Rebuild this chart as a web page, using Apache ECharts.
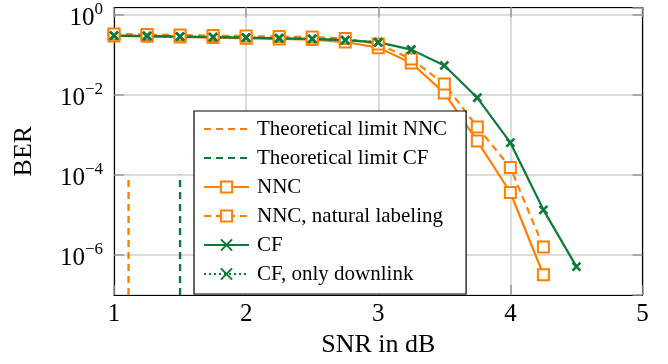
<!DOCTYPE html>
<html><head><meta charset="utf-8">
<script src="https://cdn.jsdelivr.net/npm/echarts@6/dist/echarts.min.js"></script>
<style>html,body{margin:0;padding:0;background:#fff}#c{width:668px;height:364px}</style>
</head><body><div id="c"></div><script>
// SNR points (dB)
const snr = [1, 1.25, 1.5, 1.75, 2, 2.25, 2.5, 2.75, 3, 3.25, 3.5, 3.75, 4, 4.25, 4.5];
// BER values
const berNNC = [0.29, 0.284, 0.274, 0.263, 0.253, 0.244, 0.235, 0.204, 0.148, 0.061, 0.011, 6.9e-4, 3.6e-5, 3.2e-7];
const berNNCNatural = [0.324, 0.313, 0.304, 0.295, 0.288, 0.279, 0.271, 0.249, 0.182, 0.077, 0.0184, 1.55e-3, 1.51e-4, 1.58e-6];
const berCF = [0.295, 0.288, 0.279, 0.271, 0.263, 0.253, 0.244, 0.228, 0.201, 0.132, 0.053, 8.3e-3, 6.3e-4, 1.33e-5, 5.1e-7];
const berCFDownlink = [0.295, 0.288, 0.279, 0.271, 0.263, 0.253, 0.244, 0.228, 0.201, 0.132];
// Theoretical limits (dB) and the BER span of their vertical lines
const limitNNC = 1.11;
const limitCF = 1.5;
const limitBER = [1e-7, 1e-4];
// axis
const xTicks = [1, 2, 3, 4, 5];
const yMin = 1e-7, yMax = 1.5;

const ORANGE = '#ff8000';
const GREEN = '#0c7a3a';
const FONT = 'Liberation Serif';
const CROSS = 'path://M0,0L10,10M10,0L0,10';

const pairs = (ys) => ys.map((y, i) => [snr[i], y]);
const vline = (x) => limitBER.map(y => [x, y]);

function supLabel(v) {
  const e = Math.round(Math.log10(v));
  return '{b|10}{s|' + (e < 0 ? '\u2212' + (-e) : String(e)) + '}';
}

const chart = echarts.init(document.getElementById('c'), null, {renderer: 'canvas'});
const axisLineStyle = {show: true, lineStyle: {color: '#000', width: 1.2}};
const tickStyle = {show: true, inside: true, length: 10, lineStyle: {color: '#999', width: 1.5}};
const gridLine = {show: true, lineStyle: {color: '#d0d0d0', width: 1.5}};

chart.setOption({
  animation: false,
  backgroundColor: '#fff',
  textStyle: {fontFamily: FONT, color: '#000'},
  grid: {left: 114, right: 25.5, top: 7.3, bottom: 69, containLabel: false},
  xAxis: [{
    type: 'value', min: xTicks[0], max: xTicks[xTicks.length - 1], interval: 1,
    name: 'SNR in dB', nameLocation: 'middle', nameGap: 36,
    nameTextStyle: {fontFamily: FONT, fontSize: 26, color: '#000'},
    axisLine: axisLineStyle, axisTick: tickStyle, splitLine: gridLine,
    axisLabel: {fontFamily: FONT, fontSize: 25, color: '#000', margin: 7}
  }, {
    type: 'value', position: 'top', min: xTicks[0], max: xTicks[xTicks.length - 1], interval: 1,
    axisLine: axisLineStyle, axisTick: tickStyle, splitLine: {show: false}, axisLabel: {show: false}
  }],
  yAxis: [{
    type: 'log', logBase: 100, min: yMin, max: yMax,
    name: 'BER', nameLocation: 'middle', nameGap: 77,
    nameTextStyle: {fontFamily: FONT, fontSize: 26, color: '#000'},
    axisLine: axisLineStyle, axisTick: tickStyle, splitLine: gridLine,
    axisLabel: {
      margin: 11, showMinLabel: false, showMaxLabel: false,
      formatter: supLabel,
      rich: {
        b: {fontFamily: FONT, fontSize: 25, color: '#000', padding: [8, 0, 0, 0]},
        s: {fontFamily: FONT, fontSize: 17, color: '#000', padding: [0, 0, 10, 0]}
      }
    }
  }, {
    type: 'log', logBase: 100, min: yMin, max: yMax, position: 'right',
    axisLine: axisLineStyle, axisTick: tickStyle, splitLine: {show: false}, axisLabel: {show: false}
  }],
  legend: {
    orient: 'vertical', left: 194, top: 111,
    backgroundColor: '#fff', borderColor: '#000', borderWidth: 1.2, borderRadius: 0,
    padding: [7, 19, 9, 9], itemGap: 7, itemWidth: 45, itemHeight: 14,
    textStyle: {fontFamily: FONT, fontSize: 21, color: '#000', lineHeight: 22, padding: [0, 0, 0, 3]},
    data: [
      {name: 'Theoretical limit NNC', itemStyle: {opacity: 0}},
      {name: 'Theoretical limit CF', itemStyle: {opacity: 0}},
      'NNC', 'NNC, natural labeling', 'CF', 'CF, only downlink'
    ]
  },
  series: [
    {name: 'Theoretical limit NNC', type: 'line', data: vline(limitNNC), symbol: 'none',
     lineStyle: {color: ORANGE, width: 2.4, type: [7, 5]}, itemStyle: {color: ORANGE}},
    {name: 'Theoretical limit CF', type: 'line', data: vline(limitCF), symbol: 'none',
     lineStyle: {color: GREEN, width: 2.4, type: [7, 5]}, itemStyle: {color: GREEN}},
    {name: 'NNC', type: 'line', data: pairs(berNNC), symbol: 'emptyRect', symbolSize: 11,
     lineStyle: {color: ORANGE, width: 2.2}, itemStyle: {color: ORANGE, borderColor: ORANGE, borderWidth: 2.6}},
    {name: 'NNC, natural labeling', type: 'line', data: pairs(berNNCNatural), symbol: 'emptyRect', symbolSize: 11,
     lineStyle: {color: ORANGE, width: 2.2, type: [7, 5]}, itemStyle: {color: ORANGE, borderColor: ORANGE, borderWidth: 2.6}},
    {name: 'CF', type: 'line', data: pairs(berCF), symbol: CROSS, symbolSize: 8,
     lineStyle: {color: GREEN, width: 2.2}, itemStyle: {color: GREEN, borderColor: GREEN, borderWidth: 2.6}},
    {name: 'CF, only downlink', type: 'line', data: pairs(berCFDownlink), symbol: CROSS, symbolSize: 8,
     lineStyle: {color: GREEN, width: 2.2, type: [2, 3]}, itemStyle: {color: GREEN, borderColor: GREEN, borderWidth: 2.6}}
  ]
});
</script></body></html>
